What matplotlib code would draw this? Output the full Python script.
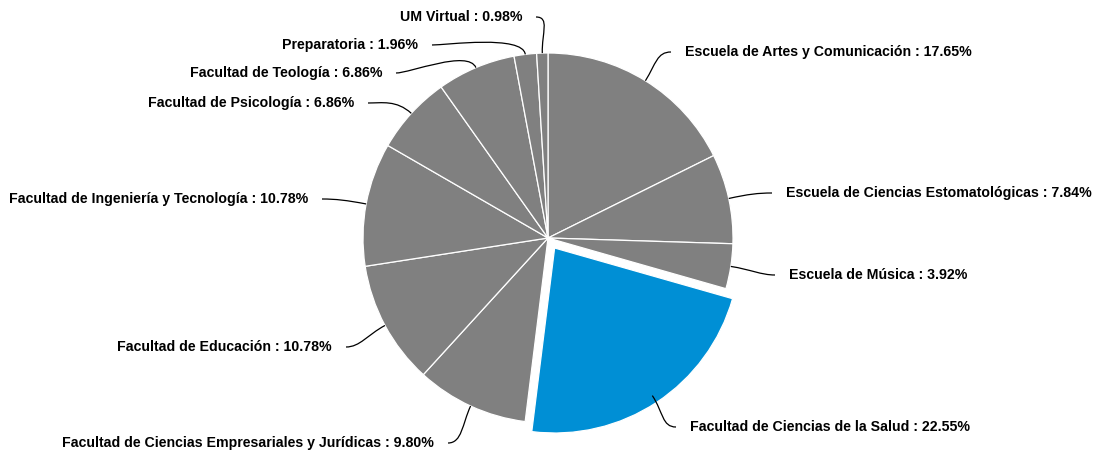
import numpy as np
import matplotlib.pyplot as plt
from matplotlib.path import Path
from matplotlib.patches import PathPatch

# Data
names = [
    "Escuela de Artes y Comunicación",
    "Escuela de Ciencias Estomatológicas",
    "Escuela de Música",
    "Facultad de Ciencias de la Salud",
    "Facultad de Ciencias Empresariales y Jurídicas",
    "Facultad de Educación",
    "Facultad de Ingeniería y Tecnología",
    "Facultad de Psicología",
    "Facultad de Teología",
    "Preparatoria",
    "UM Virtual",
]
shares = [17.65, 7.84, 3.92, 22.55, 9.80, 10.78, 10.78, 6.86, 6.86, 1.96, 0.98]
highlight = "Facultad de Ciencias de la Salud"

# Layout (pixel space)
W, H = 1095, 455
cx, cy, r = 548, 238, 185
explode_px = 12
gray, blue = "#808080", "#008fd5"
# label anchor (x of text edge nearest the pie, y centre)
label_xy = [(685, 52), (786, 193), (789, 275), (690, 427), (434, 443),
            (332, 347), (308, 199), (354, 103), (382, 73), (418, 45), (522, 17)]

plt.rcParams['font.family'] = ['Liberation Sans', 'DejaVu Sans']

fig = plt.figure(figsize=(W / 100, H / 100), dpi=100)
ax = fig.add_axes([0, 0, 1, 1])

colors = [blue if n == highlight else gray for n in names]
explode = [explode_px if n == highlight else 0 for n in names]

# matplotlib offsets exploded wedges by the raw value (not scaled by radius)
ax.pie(shares, startangle=-90, counterclock=True, radius=r, center=(cx, cy),
       colors=colors, explode=explode,
       wedgeprops=dict(edgecolor='white', linewidth=0.9))

ax.set_xlim(0, W)
ax.set_ylim(H, 0)
ax.set_aspect('equal')
ax.set_axis_off()

total = sum(shares)
cum = np.cumsum([0] + shares[:-1])
for name, val, c0, ex, (lx, ly) in zip(names, shares, cum, explode, label_xy):
    t = np.deg2rad((c0 + val / 2) / total * 360)
    dx, dy = np.sin(t), -np.cos(t)
    ox, oy = cx + dx * ex, cy + dy * ex
    rr = r - 8 if ex else r
    ex0, ey0 = ox + dx * rr, oy + dy * rr
    right = dx >= 0
    sign = 1 if right else -1
    endx = lx - sign * 14
    p0 = (ex0, ey0)
    p1 = (ex0 + dx * 20, ey0 + dy * 20)
    p3 = (endx, ly)
    p2 = (endx - sign * 14, ly)
    path = Path([p0, p1, p2, p3], [Path.MOVETO, Path.CURVE4, Path.CURVE4, Path.CURVE4])
    ax.add_patch(PathPatch(path, fill=False, edgecolor='black', linewidth=0.9))
    ax.text(lx, ly, f"{name} : {val:.2f}%", ha='left' if right else 'right',
            va='center', fontsize=10.2, fontweight='bold', color='black')

fig.savefig("out.png", dpi=100)
